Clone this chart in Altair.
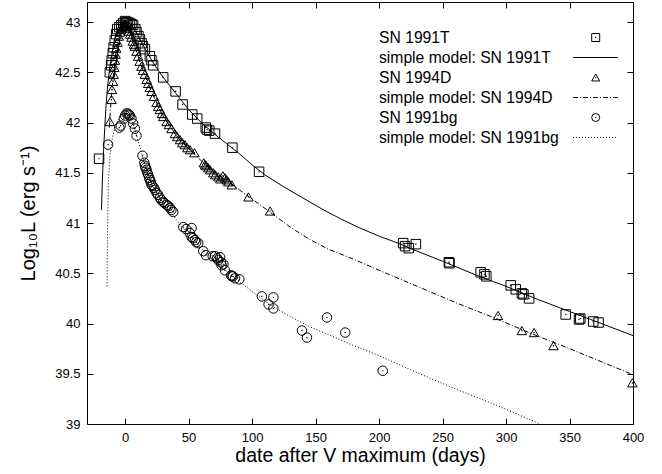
import altair as alt
import pandas as pd

# ---------------- data ----------------
# SN 1991T observations (days after V max, log10 L)
t91T_day = [-20.5, -12.0, -11.0, -10.5, -9.7, -9.0, -8.1, -7.0, -6.2, -4.5, -3.0, -1.5,
            0.0, 1.0, 2.0, 3.5, 5.0, 6.3, 8.0, 9.0, 10.5, 11.6, 13.0, 14.0, 15.6, 19.5,
            20.8, 22.1, 30.0, 39.8, 45.3, 52.9, 56.8, 63.5, 64.5, 66.3, 70.8, 84.5,
            105.5, 219.0, 220.5, 223.4, 229.0, 255.0, 255.5, 280.0, 283.0, 284.5,
            303.7, 307.7, 312.5, 313.7, 318.2, 347.0, 357.5, 358.5, 368.7, 372.9]
t91T_L = [41.64, 42.50, 42.57, 42.62, 42.69, 42.75, 42.82, 42.88, 42.93, 42.95, 42.97, 42.99,
          43.01, 43.00, 43.00, 42.99, 42.98, 42.97, 42.93, 42.90, 42.86, 42.83, 42.79, 42.76,
          42.73, 42.66, 42.62, 42.57, 42.45, 42.31, 42.18, 42.08, 42.04, 41.95, 41.93, 41.92,
          41.89, 41.75, 41.51, 40.80, 40.77, 40.75, 40.79, 40.61, 40.60, 40.51, 40.49, 40.47,
          40.38, 40.34, 40.30, 40.29, 40.25, 40.09, 40.04, 40.05, 40.02, 40.01]

# SN 1994D observations
t94D_day = [-12.0, -10.7, -10.3, -9.5, -9.0, -8.5, -8.0, -7.5, -7.0, -6.0, -5.0, -4.0, -3.0,
            -2.0, -1.0, 0.0, 1.0, 2.0, 3.0, 4.0, 5.0, 6.0, 7.0, 7.7, 9.0, 10.3, 11.5, 12.9,
            14.0, 15.6, 17.0, 18.2, 19.5, 20.8, 22.7, 24.8, 26.0, 27.4, 29.0, 30.0, 32.7,
            34.5, 36.6, 39.2, 41.0, 43.2, 45.0, 47.1, 49.0, 51.1, 54.6, 62.0, 62.9, 64.0,
            65.5, 67.0, 69.5, 71.0, 73.4, 75.0, 77.0, 78.7, 80.0, 81.3, 84.0, 97.1, 114.2,
            293.7, 312.5, 322.1, 337.4, 399.5]
t94D_L = [42.01, 42.23, 42.33, 42.41, 42.48, 42.55, 42.62, 42.68, 42.74, 42.80, 42.86, 42.90,
          42.93, 42.95, 42.96, 42.97, 42.96, 42.94, 42.91, 42.88, 42.85, 42.81, 42.78, 42.76,
          42.71, 42.66, 42.61, 42.56, 42.52, 42.48, 42.43, 42.39, 42.35, 42.31, 42.26, 42.20,
          42.16, 42.13, 42.09, 42.06, 42.01, 41.98, 41.94, 41.89, 41.86, 41.83, 41.80, 41.78,
          41.75, 41.73, 41.70, 41.60, 41.58, 41.57, 41.55, 41.53, 41.50, 41.48, 41.46, 41.44,
          41.47, 41.45, 41.43, 41.41, 41.38, 41.26, 41.12, 40.08, 39.93, 39.91, 39.78, 39.41]

# SN 1991bg observations
t91bg_day = [-13.4, -4.5, -3.5, -1.0, 0.0, 1.1, 2.0, 3.0, 3.7, 5.0, 6.3, 7.7, 9.0, 13.7, 15.2,
             15.6, 16.2, 16.9, 17.5, 18.2, 19.0, 19.5, 20.2, 20.8, 21.5, 22.7, 23.5, 24.8,
             26.0, 27.4, 28.5, 30.0, 31.0, 32.7, 34.0, 35.3, 36.5, 37.9, 45.8, 48.0, 52.4,
             51.0, 52.4, 53.5, 55.0, 56.0, 57.6, 61.6, 63.7, 69.0, 70.8, 72.5, 73.4, 74.8,
             75.5, 76.0, 77.4, 78.7, 83.5, 84.0, 85.0, 86.6, 90.0, 107.7, 113.0, 116.8,
             116.8, 139.3, 143.2, 159.0, 173.4, 202.9]
t91bg_L = [41.78, 41.95, 41.97, 42.04, 42.07, 42.09, 42.09, 42.08, 42.07, 42.04, 41.99, 41.94,
           41.87, 41.67, 41.60, 41.57, 41.55, 41.53, 41.50, 41.48, 41.45, 41.43, 41.41, 41.38,
           41.37, 41.35, 41.33, 41.30, 41.28, 41.25, 41.23, 41.21, 41.20, 41.18, 41.17, 41.15,
           41.13, 41.11, 40.96, 40.94, 40.95, 40.90, 40.86, 40.85, 40.83, 40.81, 40.80, 40.72,
           40.68, 40.67, 40.67, 40.65, 40.63, 40.66, 40.61, 40.58, 40.59, 40.53, 40.48, 40.47,
           40.47, 40.45, 40.44, 40.27, 40.19, 40.26, 40.15, 39.93, 39.86, 40.06, 39.91, 39.53]

# simple model curves
m91T_day = [-18.6, -18, -17, -16, -15, -14, -13, -12, -11, -10, -9, -8, -7, -6, -5, -4, -3, -2,
            -1, 0, 1, 2, 4, 6, 8, 10, 13, 16, 20, 25, 30, 35, 40, 45, 50, 60, 70, 80, 90, 100,
            110, 125, 140, 155, 170, 185, 200, 215, 230, 250, 275, 300, 325, 350, 375, 400]
m91T_L = [41.13, 41.38, 41.72, 41.95, 42.17, 42.33, 42.45, 42.55, 42.64, 42.71, 42.78, 42.84,
          42.89, 42.93, 42.96, 42.98, 42.99, 43.00, 43.01, 43.01, 43.01, 43.00, 42.98, 42.95,
          42.91, 42.87, 42.80, 42.73, 42.64, 42.54, 42.45, 42.37, 42.29, 42.21, 42.13, 42.00,
          41.89, 41.79, 41.69, 41.58, 41.48, 41.36, 41.25, 41.14, 41.04, 40.95, 40.87, 40.80,
          40.72, 40.62, 40.49, 40.37, 40.24, 40.12, 40.00, 39.88]

m94D_day = [-12.5, -12, -11, -10, -9, -8, -7, -6, -5, -4, -3, -2, -1, 0, 1, 2, 3, 4, 5, 7, 10,
            13, 16, 20, 25, 30, 35, 40, 45, 50, 55, 60, 70, 80, 90, 100, 114, 130, 145, 160,
            180, 200, 232, 260, 290, 320, 350, 375, 400]
m94D_L = [41.95, 42.05, 42.22, 42.37, 42.49, 42.60, 42.69, 42.77, 42.83, 42.88, 42.92, 42.95,
          42.97, 42.97, 42.96, 42.94, 42.91, 42.88, 42.85, 42.78, 42.67, 42.56, 42.46, 42.33,
          42.19, 42.07, 41.97, 41.88, 41.80, 41.74, 41.68, 41.62, 41.51, 41.42, 41.33, 41.24,
          41.11, 40.96, 40.84, 40.74, 40.64, 40.53, 40.36, 40.21, 40.06, 39.90, 39.75, 39.62,
          39.49]

m91bg_day = [-14.2, -14, -13.5, -13, -12, -11, -10, -8, -6, -4, -2, 0, 2, 4, 6, 8, 10, 12, 14,
             17, 20, 25, 30, 35, 40, 45, 50, 55, 60, 70, 80, 90, 100, 115, 130, 145, 160, 180,
             200, 232, 260, 290, 327]
m91bg_L = [40.37, 40.75, 41.20, 41.45, 41.65, 41.77, 41.85, 41.95, 42.01, 42.05, 42.08, 42.09,
           42.08, 42.05, 42.00, 41.92, 41.83, 41.74, 41.65, 41.52, 41.42, 41.30, 41.20, 41.12,
           41.04, 40.96, 40.89, 40.82, 40.75, 40.63, 40.52, 40.42, 40.32, 40.18, 40.07, 39.97,
           39.89, 39.78, 39.68, 39.50, 39.35, 39.20, 39.00]

x_ticks = [0, 50, 100, 150, 200, 250, 300, 350, 400]
y_ticks = [39, 39.5, 40, 40.5, 41, 41.5, 42, 42.5, 43]
x_title = "date after V maximum (days)"
y_title = "Log\u2081\u2080L (erg s\u207b\u00b9)"
legend_labels = ["SN 1991T", "simple model: SN 1991T", "SN 1994D",
                 "simple model: SN 1994D", "SN 1991bg", "simple model: SN 1991bg"]

# ---------------- chart ----------------
FONT = "Liberation Sans"
PLOT_W, PLOT_H = 546, 422
LEFT, TOP = 87, 2

xs = alt.Scale(domain=[-30, 400], nice=False, zero=False)
ys = alt.Scale(domain=[39, 43.2], nice=False, zero=False)

df91T = pd.DataFrame({"d": t91T_day, "L": t91T_L})
df94D = pd.DataFrame({"d": t94D_day, "L": t94D_L})
df91bg = pd.DataFrame({"d": t91bg_day, "L": t91bg_L})
dfm91T = pd.DataFrame({"d": m91T_day, "L": m91T_L})
dfm94D = pd.DataFrame({"d": m94D_day, "L": m94D_L})
dfm91bg = pd.DataFrame({"d": m91bg_day, "L": m91bg_L})
df_all = pd.concat([df91T, df94D, df91bg], ignore_index=True)

common_axis = dict(grid=False, domain=False, offset=-6, tickSize=6, tickColor="black",
                   tickWidth=1, labelFlush=False)

ax_bottom = alt.Axis(orient="bottom", values=x_ticks, labelFont=FONT, labelFontSize=13,
                     labelColor="black", labelPadding=7, title=x_title, titleFont=FONT,
                     titleFontSize=19.5, titleFontWeight="normal", titleColor="black",
                     titlePadding=2, **common_axis)
ax_left = alt.Axis(orient="left", values=y_ticks, format="~g", labelFont=FONT,
                   labelFontSize=13, labelColor="black", labelPadding=7, title=y_title,
                   titleFont=FONT, titleFontSize=20, titleFontWeight="normal",
                   titleColor="black", titlePadding=16, **common_axis)
ax_top = alt.Axis(orient="top", values=x_ticks, labels=False, title=None, **common_axis)
ax_right = alt.Axis(orient="right", values=y_ticks, labels=False, title=None, **common_axis)


def enc(axis_x=None, axis_y=None):
    return dict(x=alt.X("d:Q", scale=xs, axis=axis_x), y=alt.Y("L:Q", scale=ys, axis=axis_y))


line_style = dict(color="black", strokeWidth=1, clip=True)
l1 = alt.Chart(dfm91T).mark_line(**line_style).encode(**enc())
l2 = alt.Chart(dfm94D).mark_line(strokeDash=[5, 2, 1, 2], **line_style).encode(**enc())
l3 = alt.Chart(dfm91bg).mark_line(strokeDash=[1, 2], **line_style).encode(**enc())

pt_style = dict(filled=False, size=90, stroke="black", strokeWidth=1, opacity=1)
p1 = alt.Chart(df91T).mark_point(shape="square", **pt_style).encode(**enc(ax_bottom, ax_left))
p2 = alt.Chart(df94D).mark_point(shape="triangle-up", **pt_style).encode(**enc())
p3 = alt.Chart(df91bg).mark_point(shape="circle", **pt_style).encode(**enc())
dots = alt.Chart(df_all).mark_square(size=1.5, color="black", opacity=1).encode(
    **enc(ax_top, ax_right))

layers = [l1, l2, l3, p1, p2, p3, dots]

# legend (inside the plot, top right)
row_y = [37.5, 57.5, 77.5, 97.5, 117.5, 137.5]
text_x = 379
sym_x = 595.7
line_x0, line_x1 = 573, 618
legend_shapes = {0: "square", 2: "triangle-up", 4: "circle"}
legend_dash = {1: [1, 0], 3: [5, 2, 1, 2], 5: [1, 2]}
one = pd.DataFrame({"k": [0]})
for i, lab in enumerate(legend_labels):
    yy = row_y[i] - TOP
    layers.append(alt.Chart(one).mark_text(align="left", baseline="middle", font=FONT,
                                           fontSize=15.7, color="black").encode(
        x=alt.value(text_x - LEFT), y=alt.value(yy), text=alt.value(lab)))
    if i in legend_shapes:
        layers.append(alt.Chart(one).mark_point(shape=legend_shapes[i], filled=False, size=64,
                                                stroke="black", strokeWidth=1, opacity=1).encode(
            x=alt.value(sym_x - LEFT), y=alt.value(yy)))
        layers.append(alt.Chart(one).mark_square(size=1.5, color="black", opacity=1).encode(
            x=alt.value(sym_x - LEFT), y=alt.value(yy)))
    else:
        layers.append(alt.Chart(one).mark_rule(color="black", strokeWidth=1,
                                               strokeDash=legend_dash[i]).encode(
            x=alt.value(line_x0 - LEFT), x2=alt.value(line_x1 - LEFT), y=alt.value(yy)))

chart = alt.layer(*layers).resolve_axis(x="independent", y="independent").properties(
    width=PLOT_W, height=PLOT_H,
    autosize=alt.AutoSizeParams(type="none"),
    padding={"left": LEFT, "top": TOP, "right": 662 - LEFT - PLOT_W, "bottom": 474 - TOP - PLOT_H},
    background="white",
).configure_view(stroke="black", strokeWidth=1)

chart.save("out.html", embed_options={"renderer": "svg", "actions": False})
